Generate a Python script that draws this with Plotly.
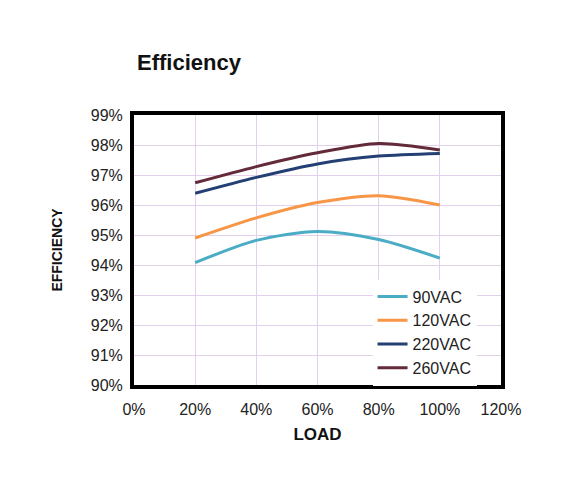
import plotly.graph_objects as go

load = [20, 40, 60, 80, 100]
eff_90 = [94.08, 94.82, 95.12, 94.85, 94.23]
eff_120 = [94.90, 95.57, 96.08, 96.31, 96.00]
eff_220 = [96.39, 96.92, 97.37, 97.63, 97.72]
eff_260 = [96.74, 97.28, 97.74, 98.05, 97.83]
series_names = ["90VAC", "120VAC", "220VAC", "260VAC"]
colors = ["#4BACC6", "#F79646", "#243F73", "#632A3A"]

x_ticks = [0, 20, 40, 60, 80, 100, 120]
y_ticks = [90, 91, 92, 93, 94, 95, 96, 97, 98, 99]

fig = go.Figure()
for name, vals, col in zip(series_names, [eff_90, eff_120, eff_220, eff_260], colors):
    fig.add_trace(go.Scatter(x=load, y=vals, name=name, mode="lines",
                             line=dict(color=col, width=3, shape="spline", smoothing=0.8)))

W, H = 566, 485
font_family = "Liberation Sans, Arial, sans-serif"
fig.update_layout(
    width=W, height=H,
    margin=dict(l=126, r=73, t=107, b=108),
    paper_bgcolor="white", plot_bgcolor="white",
    font=dict(family=font_family, color="#222222", size=16),
    title=dict(text="<b>Efficiency</b>", x=129/W, xanchor="left", y=1-54/H, yanchor="middle",
               font=dict(size=22, color="#111111")),
    showlegend=True,
    legend=dict(x=0.65, xanchor="left", y=-0.002, yanchor="bottom", bgcolor="white",
                font=dict(size=16, color="#222222"), tracegroupgap=0, itemwidth=30),
    xaxis=dict(range=[0, 120], tickvals=x_ticks, ticktext=[f"{v}%" for v in x_ticks],
               showgrid=True, gridcolor="#E3D0EA", gridwidth=1, zeroline=False,
               showline=True, linecolor="black", linewidth=4, mirror=True,
               ticks="outside", ticklen=7, tickcolor="rgba(0,0,0,0)",
               title=dict(text="<b>LOAD</b>", font=dict(size=17, color="#111111"), standoff=12)),
    yaxis=dict(range=[90, 99], tickvals=y_ticks, ticktext=[f"{v}%" for v in y_ticks],
               showgrid=True, gridcolor="#E3D0EA", gridwidth=1, zeroline=False,
               showline=True, linecolor="black", linewidth=4, mirror=True,
               ticks="outside", ticklen=4, tickcolor="rgba(0,0,0,0)",
               title=dict(text="<b>EFFICIENCY</b>", font=dict(size=14, color="#111111"), standoff=26)),
)

fig.write_html("out.html")
